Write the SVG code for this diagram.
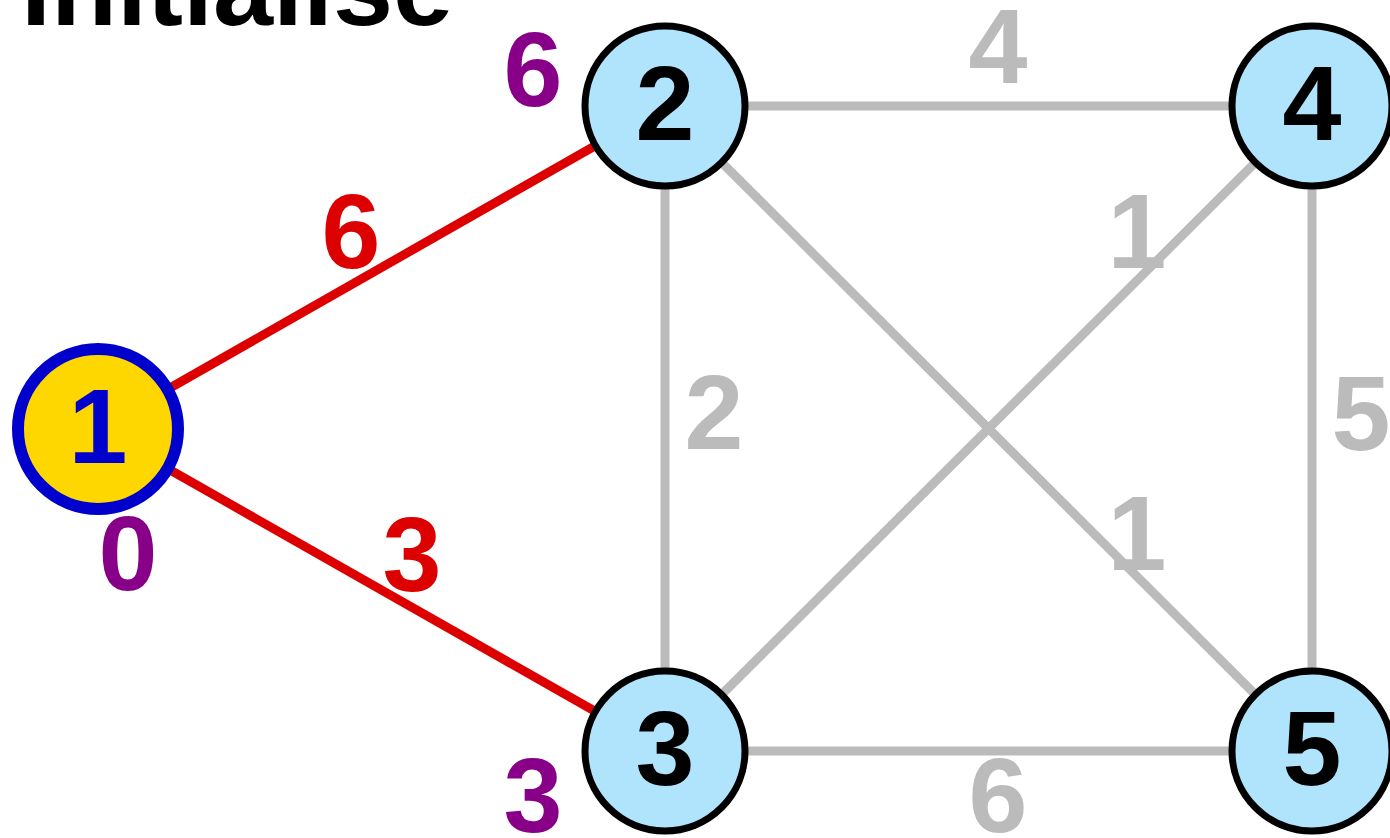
<svg xmlns="http://www.w3.org/2000/svg" width="1390" height="838" viewBox="0 0 1390 838">
<style>
text{font-family:"Liberation Sans",Arial,sans-serif;font-weight:bold;font-size:106px;text-anchor:middle}
.e{stroke:#bbbbbb;stroke-width:9;fill:none}
.r{stroke:#dd0000;stroke-width:9;fill:none}
.n circle{fill:#b0e4fc;stroke:#000;stroke-width:7}
.n text{fill:#000}
.gl{fill:#bbbbbb}
.rl{fill:#dd0000}
.pl{fill:#880088}
</style>
<rect width="1390" height="838" fill="#fff"/>
<text x="21" y="25" style="text-anchor:start;font-size:108px" fill="#000">Initialise</text>
<g id="connectors">
<line class="r" x1="98" y1="429" x2="665" y2="106"/>
<line class="r" x1="98" y1="429" x2="665" y2="751"/>
<line class="e" x1="665" y1="106" x2="1312" y2="106"/>
<line class="e" x1="665" y1="106" x2="665" y2="751"/>
<line class="e" x1="665" y1="106" x2="1312" y2="751"/>
<line class="e" x1="665" y1="751" x2="1312" y2="106"/>
<line class="e" x1="1312" y1="106" x2="1312" y2="751"/>
<line class="e" x1="665" y1="751" x2="1312" y2="751"/>
</g>
<g id="edge-labels">
<text class="rl" x="351" y="268">6</text>
<text class="rl" x="412" y="591">3</text>
<text class="gl" x="998" y="83">4</text>
<text class="gl" x="1137" y="268">1</text>
<text class="gl" x="1137" y="570">1</text>
<text class="gl" x="714" y="449">2</text>
<text class="gl" x="1361" y="450">5</text>
<text class="gl" x="998" y="832">6</text>
</g>
<g id="node1">
<circle cx="98" cy="429" r="80" fill="#ffd700" stroke="#0000cc" stroke-width="12"/>
<text x="98" y="463" fill="#0000cc">1</text>
</g>
<g id="node2" class="n">
<circle cx="665" cy="106" r="80"/>
<text x="665" y="140">2</text>
</g>
<g id="node3" class="n">
<circle cx="665" cy="751" r="80"/>
<text x="665" y="785">3</text>
</g>
<g id="node4" class="n">
<circle cx="1312" cy="106" r="80"/>
<text x="1312" y="140">4</text>
</g>
<g id="node5" class="n">
<circle cx="1312" cy="751" r="80"/>
<text x="1312" y="785">5</text>
</g>
<g id="distances">
<text class="pl" x="533" y="106">6</text>
<text class="pl" x="128" y="590">0</text>
<text class="pl" x="533" y="832">3</text>
</g>
</svg>
